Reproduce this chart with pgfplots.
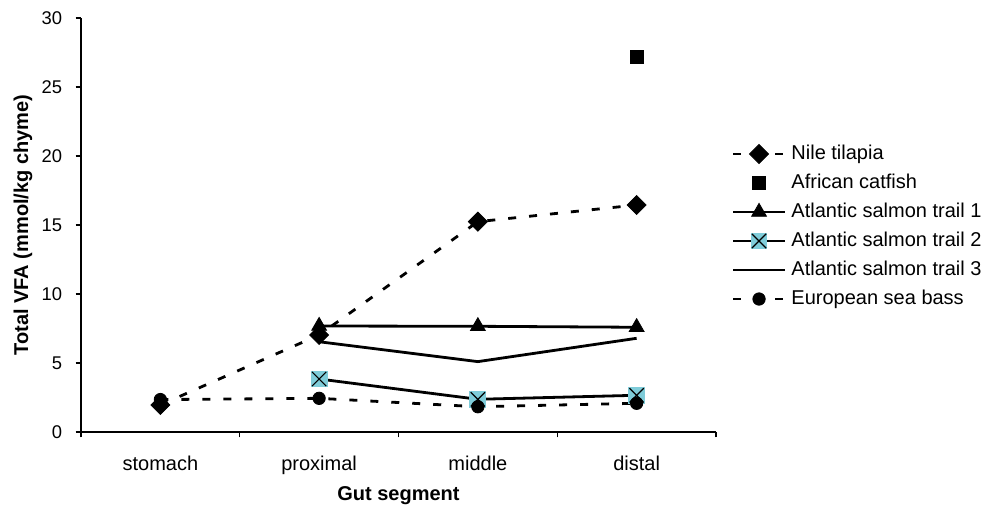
\documentclass[border=0pt]{standalone}
\usepackage{fontspec}
\setmainfont{Liberation Sans}
\usepackage{pgfplots}
\pgfplotsset{compat=1.18}
\definecolor{sqblue}{HTML}{7FCCD9}
\pgfdeclareplotmark{sqx}{%
  \pgfpathrectangle{\pgfqpoint{-\pgfplotmarksize}{-\pgfplotmarksize}}{\pgfqpoint{2\pgfplotmarksize}{2\pgfplotmarksize}}%
  \pgfusepath{fill}%
  \pgfpathmoveto{\pgfqpoint{-0.85\pgfplotmarksize}{-0.85\pgfplotmarksize}}%
  \pgfpathlineto{\pgfqpoint{0.85\pgfplotmarksize}{0.85\pgfplotmarksize}}%
  \pgfpathmoveto{\pgfqpoint{-0.85\pgfplotmarksize}{0.85\pgfplotmarksize}}%
  \pgfpathlineto{\pgfqpoint{0.85\pgfplotmarksize}{-0.85\pgfplotmarksize}}%
  \pgfusepath{stroke}%
}
\begin{document}
\begin{tikzpicture}[font=\fontsize{10}{12}\selectfont]
\path[use as bounding box] (-40.5pt,-40.5pt) rectangle (451.5pt,216pt);
\begin{axis}[
  at={(0pt,0pt)}, anchor=south west,
  scale only axis, width=317.5pt, height=207pt,
  xmin=-0.5, xmax=3.5, ymin=0, ymax=30,
  axis x line*=bottom, axis y line*=left,
  axis line style={black, line width=0.6pt},
  xtick={0,1,2,3}, xticklabels={stomach,proximal,middle,distal},
  minor xtick={-0.5,0.5,1.5,2.5,3.5},
  ytick={0,5,...,30},
  tick align=outside, major tick length=2.7pt, minor tick length=2.7pt,
  tick style={black, line width=0.6pt},
  major x tick style={draw=none},
  /pgf/number format/assume math mode=true,
  xticklabel style={anchor=base, yshift=-16.8pt},
  yticklabel style={anchor=east, inner sep=0pt, xshift=-6.5pt, font=\fontsize{9.2}{11}\selectfont},
  xlabel={\bfseries Gut segment},
  ylabel={\bfseries Total VFA (mmol/kg chyme)},
  every axis x label/.style={at={(axis description cs:0.5,0)}, anchor=base, yshift=-34.5pt},
  every axis y label/.style={at={(axis description cs:0,0.5)}, xshift=-29pt, rotate=90, anchor=center},
  legend image code/.code={\draw[mark repeat=2,mark phase=2,#1] plot coordinates {(0pt,0pt) (13pt,0pt) (26pt,0pt)};},
  legend cell align=left,
  legend style={at={(axis description cs:1.024,0.699)}, anchor=north west, draw=none, fill=none,
    inner sep=0pt, row sep=3.5pt, column sep=2.5pt,
    nodes={inner sep=0pt, text height=8pt, text depth=3pt}},
]
\addplot[black, line width=1.4pt, dash pattern=on 4pt off 6.5pt, mark=square*, mark size=3.36pt,
  mark options={solid, rotate=45, fill=black, line width=0.4pt}]
  coordinates {(0,1.96) (1,7.03) (2,15.24) (3,16.45)};
\addlegendentry{Nile tilapia}
\addplot[black, only marks, mark=square*, mark size=3.25pt, mark options={fill=black, line width=0.4pt}]
  coordinates {(3,27.2)};
\addlegendentry{African catfish}
\addplot[black, line width=1.4pt, mark=triangle*, mark size=4.3pt, mark options={solid, fill=black, line width=0.4pt}]
  coordinates {(1,7.68) (2,7.66) (3,7.59)};
\addlegendentry{Atlantic salmon trail 1}
\addplot[black, line width=1.4pt, mark=sqx, mark size=4.2pt, mark options={solid, fill=sqblue, draw=black, line width=0.6pt}]
  coordinates {(1,3.84) (2,2.37) (3,2.66)};
\addlegendentry{Atlantic salmon trail 2}
\addplot[black, line width=1.4pt, no marks]
  coordinates {(1,6.54) (2,5.1) (3,6.79)};
\addlegendentry{Atlantic salmon trail 3}
\addplot[black, line width=1.4pt, dash pattern=on 4pt off 6.5pt, mark=*, mark size=3.1pt,
  mark options={solid, fill=black, line width=0.4pt}]
  coordinates {(0,2.35) (1,2.44) (2,1.83) (3,2.08)};
\addlegendentry{European sea bass}
\end{axis}
\end{tikzpicture}
\end{document}
